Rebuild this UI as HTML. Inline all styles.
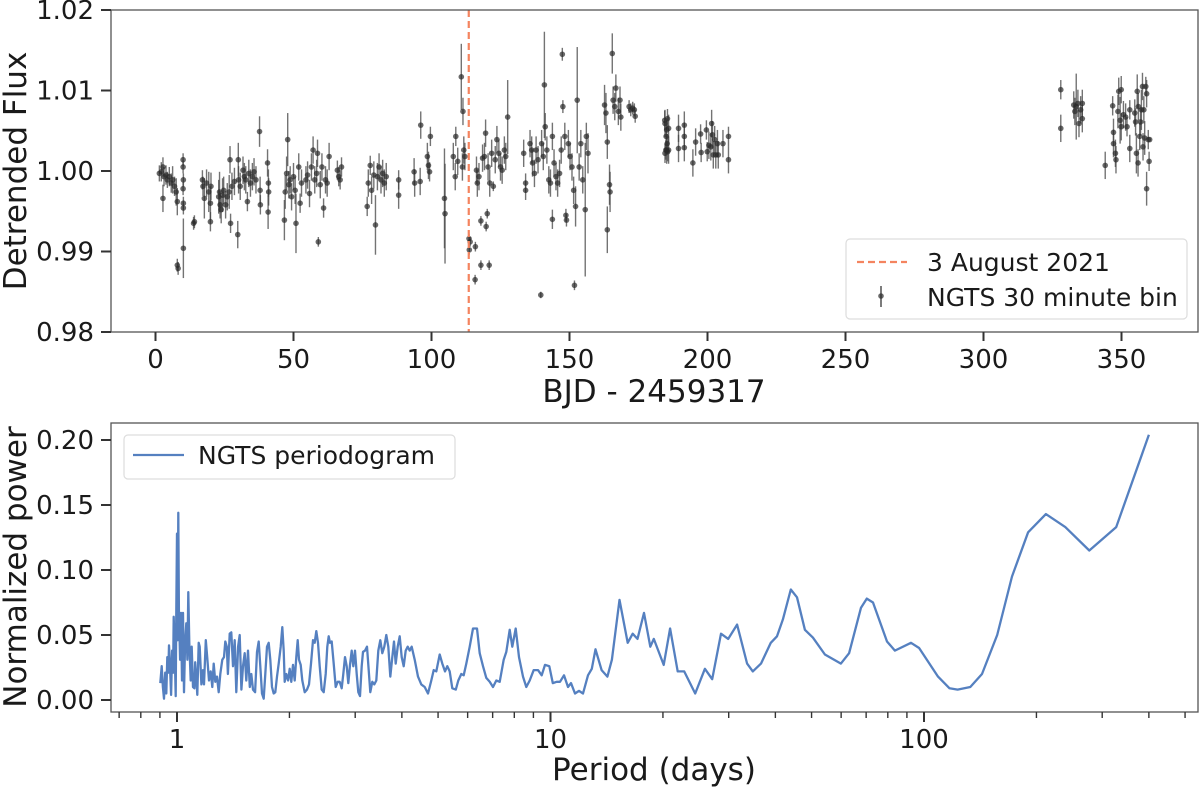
<!DOCTYPE html>
<html><head><meta charset="utf-8">
<style>
body{margin:0;background:#fff;}
svg{display:block;font-family:"DejaVu Sans","Liberation Sans",sans-serif;}
</style></head>
<body>
<svg id="fig" width="1200" height="790" viewBox="0 0 1200 790">
<g id="topPanel"></g>
<g id="botPanel"></g>
</svg>
<script>
// ---- Light curve data ----
const lcTime = [1.4,2.1,2.7,3.1,2.7,3.8,4.3,5.0,5.7,6.2,6.9,7.5,7.9,7.9,8.2,10.0,10.0,10.1,10.0,10.1,10.1,10.1,13.8,14.1,17.0,17.2,17.7,18.5,19.3,19.9,20.1,19.9,22.9,23.2,23.4,23.8,24.3,24.7,25.4,26.0,26.7,27.0,27.2,27.7,28.6,29.8,30.0,30.1,30.7,31.7,32.2,32.7,33.3,33.8,34.4,35.1,35.7,36.4,37.7,37.9,38.0,40.6,40.9,41.0,40.8,46.7,47.0,47.5,47.9,48.3,48.8,49.3,50.0,50.6,50.9,51.9,52.4,52.9,54.5,55.1,55.8,56.5,57.1,57.7,58.4,58.7,59.0,59.7,60.3,60.9,61.6,62.2,62.9,65.9,66.4,66.9,67.4,76.7,77.1,77.8,78.3,79.1,79.7,80.4,81.0,81.7,82.3,82.9,83.6,88.1,88.1,93.7,93.9,96.1,95.9,98.5,98.9,99.6,99.3,104.7,104.9,107.9,108.6,108.8,109.5,110.8,111.4,111.7,112.1,111.2,113.6,113.7,114.0,115.9,115.8,116.3,116.6,117.2,117.9,117.9,118.5,119.2,119.6,119.8,120.2,120.9,120.5,121.1,121.8,122.4,123.1,123.7,124.4,125.0,125.6,126.4,126.9,127.6,133.4,134.1,134.1,135.7,136.3,136.6,137.3,137.9,138.6,139.6,139.9,140.5,140.9,141.2,141.8,142.5,143.1,143.8,143.8,144.4,145.1,145.7,146.4,147.0,147.4,147.6,148.3,148.7,148.9,149.6,150.2,150.9,151.5,151.8,152.2,152.8,153.5,154.1,154.8,155.7,156.1,156.7,162.7,163.2,163.7,163.7,164.5,164.7,165.5,165.8,166.4,166.8,167.7,168.3,168.6,171.6,172.2,172.9,173.5,173.8,184.5,185.2,185.4,184.9,185.6,184.6,185.0,185.2,185.5,185.9,185.9,184.6,189.5,189.5,191.6,191.6,191.6,194.7,195.7,197.5,197.7,199.6,199.9,200.5,201.2,201.5,201.8,202.1,202.6,203.0,203.6,203.9,205.6,207.6,207.6,328.0,328.0,332.7,333.1,333.6,334.2,334.6,335.2,335.8,335.8,344.1,346.8,347.1,347.1,347.8,348.0,348.7,349.0,349.5,349.9,349.9,350.7,351.5,352.0,353.0,353.0,354.8,355.1,355.4,355.7,356.0,356.1,356.6,356.9,357.2,357.6,357.8,358.1,358.4,358.8,359.1,359.1,359.7,360.0,360.2];
const lcFlux = [0.9997,0.9999,1.0005,0.9993,0.9966,0.9995,0.9989,0.9993,0.9985,0.9989,0.9981,0.9974,0.9962,0.9883,0.9879,1.0014,1.0005,0.9989,0.9978,0.9960,0.9954,0.9904,0.9935,0.9937,0.9989,0.9981,0.9966,0.9985,0.9974,0.9960,0.9981,0.9937,0.9968,0.9974,0.9958,0.9952,0.9970,0.9976,0.9958,0.9968,0.9974,1.0014,0.9935,0.9981,0.9987,0.9921,1.0014,0.9989,0.9981,1.0001,0.9993,0.9989,0.9962,0.9997,0.9985,0.9993,0.9999,0.9989,1.0049,0.9976,0.9958,1.0010,0.9985,0.9974,0.9949,0.9939,0.9974,0.9997,1.0039,0.9983,0.9989,0.9968,0.9993,0.9976,0.9935,1.0005,0.9960,0.9985,0.9989,0.9995,0.9972,1.0005,1.0026,0.9989,0.9997,1.0022,0.9912,0.9983,1.0005,0.9954,0.9989,0.9985,1.0018,1.0001,0.9993,0.9989,1.0005,0.9956,0.9985,1.0007,0.9976,0.9995,0.9933,0.9993,1.0005,0.9989,0.9997,0.9985,0.9993,0.9989,0.9970,0.9999,0.9985,1.0057,0.9987,1.0018,1.0007,1.0043,0.9999,0.9966,0.9947,1.0018,0.9993,1.0043,1.0012,1.0117,1.0074,1.0026,1.0018,1.0005,0.9916,0.9902,0.9912,0.9906,0.9865,1.0001,0.9985,0.9993,0.9938,0.9883,1.0016,1.0018,1.0047,0.9931,0.9947,0.9883,1.0005,0.9985,1.0022,0.9981,1.0014,1.0039,1.0022,1.0005,1.0001,1.0026,1.0018,1.0067,1.0022,0.9985,0.9976,1.0034,1.0026,1.0010,0.9997,1.0026,1.0014,0.9846,1.0034,1.0018,1.0107,1.0055,1.0026,0.9989,0.9985,1.0043,0.9940,1.0010,0.9993,0.9985,0.9997,1.0026,1.0145,1.0080,1.0043,0.9945,0.9939,1.0034,1.0018,1.0005,0.9976,0.9858,0.9956,1.0088,1.0005,1.0034,0.9989,0.9952,1.0043,1.0022,1.0082,1.0072,1.0036,0.9927,0.9983,0.9974,1.0146,1.0088,1.0080,1.0103,1.0074,1.0088,1.0067,1.0080,1.0076,1.0078,1.0076,1.0068,1.0063,1.0051,1.0034,1.0026,1.0024,1.0059,1.0043,1.0026,1.0065,1.0053,1.0026,1.0022,1.0053,1.0028,1.0057,1.0043,1.0029,1.0010,1.0036,1.0046,1.0023,1.0051,1.0024,1.0032,1.0030,1.0059,1.0045,1.0020,1.0039,1.0020,1.0034,1.0020,1.0034,1.0043,1.0014,1.0101,1.0053,1.0082,1.0074,1.0080,1.0084,1.0059,1.0076,1.0084,1.0065,1.0007,1.0081,1.0048,1.0034,1.0022,1.0014,1.0074,1.0099,1.0063,1.0101,1.0055,1.0070,1.0067,1.0055,1.0076,1.0028,1.0072,1.0061,1.0022,1.0099,1.0010,1.0080,1.0043,1.0061,1.0076,1.0105,1.0030,1.0076,1.0041,1.0105,0.9978,1.0096,1.0039,1.0012,1.0039];
const lcErr = [.0010,.0012,.0012,.0012,.0017,.0012,.0010,.0012,.0012,.0017,.0012,.0017,.0017,.0008,.0008,.0008,.0008,.0008,.0008,.0008,.0008,.0037,.0008,.0008,.0012,.0012,.0025,.0017,.0025,.0021,.0017,.0012,.0021,.0025,.0017,.0017,.0021,.0017,.0017,.0017,.0021,.0017,.0012,.0017,.0017,.0017,.0021,.0017,.0017,.0017,.0017,.0017,.0012,.0017,.0017,.0017,.0017,.0017,.0019,.0017,.0012,.0017,.0017,.0017,.0021,.0025,.0021,.0021,.0033,.0017,.0017,.0017,.0017,.0017,.0037,.0017,.0012,.0017,.0017,.0017,.0017,.0017,.0017,.0017,.0017,.0017,.0006,.0017,.0017,.0012,.0017,.0017,.0017,.0012,.0012,.0012,.0012,.0012,.0017,.0012,.0017,.0017,.0037,.0017,.0017,.0017,.0017,.0017,.0017,.0012,.0017,.0017,.0017,.0017,.0017,.0017,.0017,.0012,.0012,.0062,.0062,.0017,.0017,.0012,.0017,.0041,.0017,.0017,.0017,.0017,.0006,.0006,.0006,.0006,.0006,.0017,.0017,.0017,.0006,.0006,.0017,.0017,.0017,.0006,.0006,.0006,.0017,.0017,.0017,.0006,.0017,.0017,.0017,.0017,.0017,.0017,.0017,.0046,.0017,.0012,.0012,.0017,.0017,.0017,.0017,.0017,.0017,.0004,.0017,.0017,.0066,.0017,.0017,.0017,.0017,.0017,.0012,.0017,.0017,.0017,.0017,.0017,.0008,.0008,.0017,.0008,.0008,.0017,.0017,.0017,.0017,.0006,.0025,.0066,.0017,.0017,.0017,.0083,.0017,.0025,.0025,.0025,.0021,.0029,.0025,.0025,.0025,.0017,.0017,.0017,.0017,.0017,.0017,.0008,.0008,.0008,.0008,.0008,.0012,.0012,.0012,.0012,.0012,.0017,.0017,.0017,.0012,.0017,.0017,.0012,.0017,.0017,.0017,.0017,.0017,.0017,.0017,.0012,.0012,.0012,.0012,.0017,.0017,.0017,.0017,.0017,.0017,.0017,.0017,.0017,.0017,.0012,.0017,.0012,.0017,.0017,.0017,.0041,.0017,.0017,.0017,.0017,.0017,.0017,.0012,.0017,.0017,.0017,.0017,.0021,.0017,.0029,.0017,.0017,.0017,.0017,.0012,.0012,.0017,.0017,.0017,.0025,.0021,.0017,.0017,.0017,.0017,.0025,.0017,.0017,.0017,.0021,.0012,.0021,.0017,.0012,.0012];
const eventTime = 113.5;
const topXTicks = [0,50,100,150,200,250,300,350];
const topYTicks = [0.98,0.99,1.00,1.01,1.02];
const topYLabels = ["0.98","0.99","1.00","1.01","1.02"];

// ---- Periodogram data ----
const pgPeriod = [0.902,0.910,0.917,0.923,0.930,0.936,0.942,0.948,0.952,0.958,0.964,0.970,0.976,0.980,0.986,0.992,0.996,1.000,1.004,1.008,1.012,1.019,1.025,1.031,1.038,1.044,1.051,1.059,1.066,1.072,1.079,1.088,1.095,1.104,1.113,1.119,1.126,1.133,1.143,1.150,1.162,1.174,1.181,1.194,1.205,1.218,1.231,1.243,1.254,1.266,1.280,1.293,1.306,1.322,1.336,1.347,1.359,1.369,1.384,1.398,1.412,1.427,1.441,1.457,1.472,1.487,1.502,1.518,1.533,1.549,1.566,1.581,1.598,1.618,1.638,1.655,1.671,1.689,1.707,1.724,1.742,1.760,1.778,1.796,1.815,1.833,1.852,1.872,1.895,1.914,1.931,1.943,1.962,1.983,2.003,2.023,2.044,2.066,2.087,2.105,2.122,2.144,2.165,2.198,2.229,2.257,2.284,2.313,2.337,2.360,2.385,2.410,2.440,2.470,2.501,2.526,2.548,2.568,2.595,2.627,2.660,2.693,2.726,2.760,2.788,2.817,2.847,2.875,2.905,2.936,2.965,2.996,3.028,3.058,3.090,3.123,3.148,3.187,3.227,3.260,3.293,3.334,3.375,3.417,3.459,3.502,3.546,3.590,3.634,3.680,3.725,3.771,3.811,3.851,3.899,3.947,3.996,4.046,4.096,4.147,4.198,4.250,4.329,4.418,4.509,4.605,4.700,4.796,4.868,4.947,5.051,5.133,5.219,5.294,5.373,5.460,5.576,5.666,5.770,5.856,5.951,6.077,6.202,6.357,6.463,6.596,6.732,6.874,7.016,7.160,7.312,7.494,7.615,7.777,7.903,8.070,8.236,8.442,8.615,8.798,9.018,9.260,9.473,9.668,9.928,10.14,10.39,10.6,10.87,11.14,11.35,11.63,11.92,12.22,12.6,12.9,13.2,13.7,14.2,14.6,15.3,16.1,16.6,17.1,17.8,18.5,18.9,20.1,20.9,21.9,22.8,24.4,25.9,27.1,28.6,29.9,31.6,33.6,34.8,36.6,38.9,40.4,41.9,44.0,45.7,48.0,50.4,54.3,59.9,63.0,67.8,70.3,73.0,79.6,83.6,92.3,97.0,109,117,123,133,143,157,172,190,212,239,277,327,400];
const pgPower = [0.013,0.026,0.010,0.001,0.021,0.005,0.033,0.021,0.042,0.026,0.004,0.038,0.021,0.064,0.038,0.003,0.069,0.128,0.046,0.144,0.069,0.031,0.067,0.015,0.067,0.006,0.044,0.059,0.031,0.083,0.044,0.015,0.041,0.010,0.009,0.029,0.018,0.004,0.044,0.041,0.012,0.023,0.012,0.046,0.033,0.015,0.022,0.010,0.028,0.014,0.018,0.006,0.020,0.031,0.033,0.045,0.041,0.020,0.051,0.052,0.026,0.046,0.006,0.041,0.050,0.008,0.026,0.036,0.015,0.038,0.010,0.020,0.008,0.006,0.037,0.045,0.026,0.005,0.001,0.020,0.041,0.044,0.031,0.010,0.005,0.006,0.018,0.028,0.041,0.056,0.038,0.014,0.020,0.015,0.024,0.014,0.027,0.015,0.033,0.046,0.031,0.027,0.015,0.006,0.008,0.012,0.028,0.046,0.044,0.053,0.044,0.026,0.008,0.006,0.020,0.041,0.049,0.044,0.045,0.028,0.010,0.014,0.014,0.009,0.020,0.033,0.026,0.013,0.027,0.038,0.026,0.038,0.020,0.006,0.003,0.026,0.037,0.038,0.041,0.023,0.006,0.014,0.012,0.015,0.038,0.046,0.036,0.041,0.050,0.041,0.018,0.033,0.045,0.028,0.041,0.049,0.033,0.026,0.038,0.041,0.038,0.041,0.031,0.018,0.012,0.010,0.005,0.015,0.023,0.022,0.035,0.028,0.022,0.026,0.022,0.009,0.008,0.015,0.020,0.019,0.028,0.041,0.055,0.055,0.036,0.026,0.017,0.014,0.010,0.015,0.014,0.031,0.037,0.054,0.041,0.055,0.033,0.018,0.010,0.015,0.023,0.023,0.019,0.027,0.026,0.013,0.014,0.014,0.019,0.010,0.013,0.005,0.007,0.005,0.019,0.024,0.039,0.023,0.018,0.031,0.077,0.044,0.051,0.047,0.067,0.041,0.047,0.027,0.055,0.022,0.022,0.005,0.024,0.016,0.051,0.047,0.058,0.028,0.022,0.028,0.044,0.049,0.062,0.085,0.079,0.054,0.048,0.035,0.028,0.036,0.071,0.078,0.075,0.045,0.038,0.044,0.040,0.018,0.009,0.008,0.010,0.020,0.050,0.095,0.129,0.143,0.133,0.115,0.133,0.204];
const botYTicks = [0,0.05,0.10,0.15,0.20];
const botYLabels = ["0.00","0.05","0.10","0.15","0.20"];
const botXMajor = [1,10,100];
const botXMajorLabels = ["1","10","100"];

const NS = "http://www.w3.org/2000/svg";
function mk(parent, tag, attrs, text){
  const e = document.createElementNS(NS, tag);
  for (const k in attrs) e.setAttribute(k, attrs[k]);
  if (text !== undefined) e.textContent = text;
  parent.appendChild(e);
  return e;
}
const AX = "#333";
const TXT = "#1a1a1a";
const TICKF = 26, TITLEF = 31, LEGF = 25;

// ---------- TOP PANEL ----------
const topG = document.getElementById('topPanel');
const tL = 111, tR = 1198, tT = 10, tB = 332;
const xT = t => 155.5 + t * 2.76;
const yT = f => 171 - (f - 1) * 8050;

const eb = mk(topG, 'g', {});


for (let i = 0; i < lcTime.length; i++) {
  const x = xT(lcTime[i]);
  const l = mk(eb, 'line', {x1:x, x2:x, y1:yT(lcFlux[i]+lcErr[i]), y2:yT(lcFlux[i]-lcErr[i]), stroke:'#444', 'stroke-width':1.4, 'stroke-opacity':0.75});
  
  
}
const pts = mk(topG, 'g', {});


for (let i = 0; i < lcTime.length; i++) {
  const c = mk(pts, 'circle', {cx:xT(lcTime[i]), cy:yT(lcFlux[i]), r:2.8, fill:'#2a2a2a', 'fill-opacity':0.7});
  
  
}
const ev = mk(topG, 'line', {x1:xT(eventTime), x2:xT(eventTime), y1:tT, y2:tB, stroke:'#f4845f', 'stroke-width':2.2, 'stroke-dasharray':'7,4'});



const tf = mk(topG, 'rect', {x:tL, y:tT, width:tR-tL, height:tB-tT, fill:'none', stroke:'#555', 'stroke-width':1.3});



topXTicks.forEach(v => {
  const x = xT(v);
  const tk = mk(topG, 'line', {x1:x, x2:x, y1:tB, y2:tB+9, stroke:AX, 'stroke-width':2});
  
  
  const lb = mk(topG, 'text', {x:x, y:368, 'text-anchor':'middle', 'font-size':TICKF, fill:TXT}, String(v));
  
  
});
topYTicks.forEach((v, i) => {
  const y = yT(v);
  const tk = mk(topG, 'line', {x1:tL-10, x2:tL, y1:y, y2:y, stroke:AX, 'stroke-width':2});
  
  
  const lb = mk(topG, 'text', {x:94, y:y+9, 'text-anchor':'end', 'font-size':TICKF, fill:TXT}, topYLabels[i]);
  
  
});
const txl = mk(topG, 'text', {x:654, y:402, 'text-anchor':'middle', 'font-size':TITLEF, fill:TXT}, 'BJD - 2459317');


const tyl = mk(topG, 'text', {x:0, y:0, transform:'translate(26,171) rotate(-90)', 'text-anchor':'middle', 'font-size':TITLEF, fill:TXT}, 'Detrended Flux');



const lg = mk(topG, 'g', {});


mk(lg, 'rect', {x:846, y:239, width:341, height:80, rx:4, fill:'#fff', 'fill-opacity':0.85, stroke:'#ddd', 'stroke-width':1.2});
const le1 = mk(lg, 'line', {x1:857, x2:907, y1:262, y2:262, stroke:'#f4845f', 'stroke-width':2.2, 'stroke-dasharray':'7,4'});


const lt1 = mk(lg, 'text', {x:927, y:271, 'font-size':LEGF, fill:TXT}, '3 August 2021');


mk(lg, 'line', {x1:881, x2:881, y1:286, y2:307, stroke:'#444', 'stroke-width':1.4});
const le2 = mk(lg, 'circle', {cx:881, cy:296, r:2.8, fill:'#2a2a2a', 'fill-opacity':0.7});


const lt2 = mk(lg, 'text', {x:927, y:306, 'font-size':LEGF, fill:TXT}, 'NGTS 30 minute bin');



// ---------- BOTTOM PANEL ----------
const botG = document.getElementById('botPanel');
const bL = 111, bR = 1198, bT = 423, bB = 712;
const xB = p => 177 + Math.log10(p) * 373.5;
const yB = v => 700 - v * 1300;

let d = '';
pgPeriod.forEach((p, i) => { d += (i ? 'L' : 'M') + xB(p).toFixed(1) + ',' + yB(pgPower[i]).toFixed(1); });
const ln = mk(botG, 'path', {d:d, fill:'none', stroke:'#5580c0', 'stroke-width':2.3, 'stroke-linejoin':'round'});



const bf = mk(botG, 'rect', {x:bL, y:bT, width:bR-bL, height:bB-bT, fill:'none', stroke:'#555', 'stroke-width':1.3});



botXMajor.forEach((v, i) => {
  const x = xB(v);
  const tk = mk(botG, 'line', {x1:x, x2:x, y1:bB, y2:bB+10, stroke:AX, 'stroke-width':2});
  
  
  const lb = mk(botG, 'text', {x:x, y:748, 'text-anchor':'middle', 'font-size':TICKF, fill:TXT}, botXMajorLabels[i]);
  
  
});
[0.7,0.8,0.9,2,3,4,5,6,7,8,9,20,30,40,50,60,70,80,90,200,300,400,500].forEach(v => {
  const x = xB(v);
  if (x < bL || x > bR) return;
  const tk = mk(botG, 'line', {x1:x, x2:x, y1:bB, y2:bB+6, stroke:AX, 'stroke-width':1.4});
  
  
});
botYTicks.forEach((v, i) => {
  const y = yB(v);
  const tk = mk(botG, 'line', {x1:bL-10, x2:bL, y1:y, y2:y, stroke:AX, 'stroke-width':2});
  
  
  const lb = mk(botG, 'text', {x:94, y:y+9, 'text-anchor':'end', 'font-size':TICKF, fill:TXT}, botYLabels[i]);
  
  
});
const bxl = mk(botG, 'text', {x:654, y:780, 'text-anchor':'middle', 'font-size':TITLEF, fill:TXT}, 'Period (days)');


const byl = mk(botG, 'text', {x:0, y:0, transform:'translate(26,567) rotate(-90)', 'text-anchor':'middle', 'font-size':TITLEF, fill:TXT}, 'Normalized power');



const lg2 = mk(botG, 'g', {});


mk(lg2, 'rect', {x:124, y:435, width:331, height:44, rx:4, fill:'#fff', stroke:'#ddd', 'stroke-width':1.2});
const le3 = mk(lg2, 'line', {x1:133, x2:184, y1:455, y2:455, stroke:'#5580c0', 'stroke-width':2.3});


const lt3 = mk(lg2, 'text', {x:198, y:464, 'font-size':LEGF, fill:TXT}, 'NGTS periodogram');


</script>
</body></html>
